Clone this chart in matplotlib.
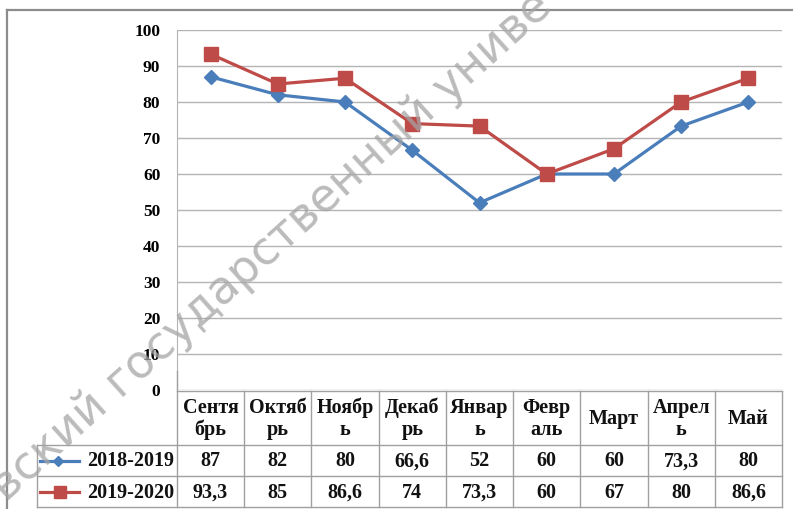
import matplotlib
matplotlib.use("Agg")
import matplotlib.pyplot as plt
from matplotlib.lines import Line2D

# data
months = ["Сентя\nбрь", "Октяб\nрь", "Ноябр\nь", "Декаб\nрь", "Январ\nь",
          "Февр\nаль", "Март", "Апрел\nь", "Май"]
s1_name = "2018-2019"
s2_name = "2019-2020"
s1 = [87, 82, 80, 66.6, 52, 60, 60, 73.3, 80]
s2 = [93.3, 85, 86.6, 74, 73.3, 60, 67, 80, 86.6]
s1_txt = ["87", "82", "80", "66,6", "52", "60", "60", "73,3", "80"]
s2_txt = ["93,3", "85", "86,6", "74", "73,3", "60", "67", "80", "86,6"]
yticks = list(range(0, 101, 10))

BLUE = "#4a7ebb"
RED = "#be4b48"
GRID = "#b4b4b4"
SERIF = "Liberation Serif"

W, H = 793, 509
fig = plt.figure(figsize=(W / 100, H / 100), dpi=100)
fig.patch.set_facecolor("white")

# plot area in pixels
px_l, px_r, px_t, px_b = 177, 782, 30, 390
ax = fig.add_axes([px_l / W, 1 - px_b / H, (px_r - px_l) / W, (px_b - px_t) / H])
x = list(range(len(months)))
ax.plot(x, s1, color=BLUE, lw=2.3, marker="D", ms=7, zorder=3)
ax.plot(x, s2, color=RED, lw=2.3, marker="s", ms=9.5, zorder=4)
ax.set_xlim(-0.5, len(months) - 0.5)
ax.set_ylim(0, 100)
ax.set_yticks(yticks)
ax.set_yticklabels([str(v) for v in yticks], fontfamily=SERIF,
                   fontweight="bold", fontsize=12.5)
ax.tick_params(axis="y", length=0, pad=12)
ax.set_xticks([])
ax.grid(axis="y", color=GRID, lw=1)
for s in ["top", "right", "bottom"]:
    ax.spines[s].set_visible(False)
ax.spines["left"].set_color(GRID)
ax.set_facecolor("none")

# overlay in pixel coords for table, frame and watermark
ov = fig.add_axes([0, 0, 1, 1])
ov.set_xlim(0, W)
ov.set_ylim(H, 0)
ov.axis("off")
ov.set_facecolor("none")

# outer frame
ov.plot([7, 7], [H, 10], color="#8c8c8c", lw=1.6)
ov.plot([7, W], [10, 10], color="#8c8c8c", lw=1.6)

# data table
col_w = (px_r - px_l) / len(months)
r0, r1, r2, r3 = 391, 445, 476, 507
lab_l = 37
tc = "#a0a0a0"
ov.plot([px_l, px_r], [r0, r0], color=tc, lw=1)
ov.plot([lab_l, px_r], [r1, r1], color=tc, lw=1)
ov.plot([lab_l, px_r], [r2, r2], color=tc, lw=1)
ov.plot([lab_l, px_r], [r3, r3], color=tc, lw=1)
ov.plot([lab_l, lab_l], [r1, r3], color=tc, lw=1)
for i in range(len(months) + 1):
    xx = px_l + i * col_w
    ov.plot([xx, xx], [r0 - 20 if i == 0 else r0, r3], color=tc, lw=1)

tfont = dict(fontfamily=SERIF, fontweight="bold", fontsize=14.5, color="#111111")
for i, m in enumerate(months):
    cx = px_l + (i + 0.5) * col_w
    ov.text(cx, (r0 + r1) / 2 + 1, m, ha="center", va="center",
            linespacing=1.1, **tfont)
    ov.text(cx, (r1 + r2) / 2 + 1, s1_txt[i], ha="center", va="center", **tfont)
    ov.text(cx, (r2 + r3) / 2 + 1, s2_txt[i], ha="center", va="center", **tfont)

# legend keys inside the table
ov.add_line(Line2D([40, 79], [(r1 + r2) / 2] * 2, color=BLUE, lw=2.3))
ov.plot([58], [(r1 + r2) / 2], marker="D", ms=5.5, color=BLUE)
ov.add_line(Line2D([40, 79], [(r2 + r3) / 2] * 2, color=RED, lw=2.3))
ov.plot([60], [(r2 + r3) / 2], marker="s", ms=8, color=RED)
ov.text(px_l - 3, (r1 + r2) / 2 + 1, s1_name, ha="right", va="center", **tfont)
ov.text(px_l - 3, (r2 + r3) / 2 + 1, s2_name, ha="right", va="center", **tfont)

# watermark
ov.text(6, 503, "вский государственный униве", rotation=42,
        rotation_mode="anchor", ha="left", va="baseline",
        fontfamily="DejaVu Sans", fontsize=33,
        color="#a4a4a4", alpha=0.75, zorder=10)

fig.savefig("out.png", dpi=100, facecolor="white")
